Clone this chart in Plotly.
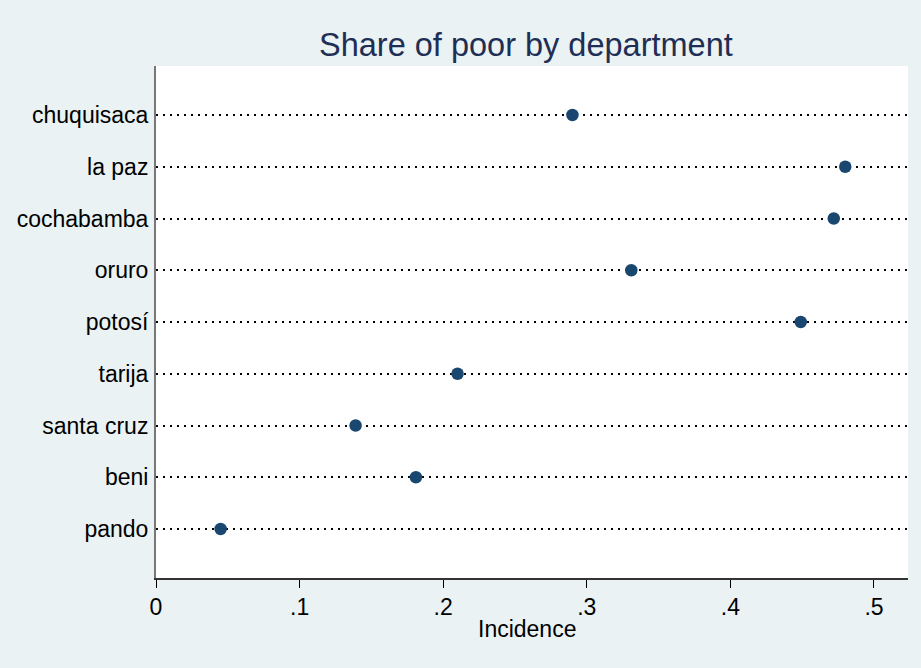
import plotly.graph_objects as go

departments = ["chuquisaca", "la paz", "cochabamba", "oruro", "potosí",
               "tarija", "santa cruz", "beni", "pando"]
incidence = [0.290, 0.480, 0.472, 0.331, 0.449, 0.210, 0.139, 0.181, 0.045]
x_tickvals = [0, 0.1, 0.2, 0.3, 0.4, 0.5]
x_ticktext = ["0", ".1", ".2", ".3", ".4", ".5"]

FONT = "Arial, Liberation Sans, sans-serif"
BG = "#EAF2F3"
NAVY = "#1A476F"

fig = go.Figure(go.Scatter(
    x=incidence, y=departments, mode="markers",
    marker=dict(color=NAVY, size=12.5, line=dict(width=0)),
    showlegend=False, hoverinfo="x+y",
))

fig.update_layout(
    width=921, height=668,
    paper_bgcolor=BG, plot_bgcolor="white",
    margin=dict(l=156, r=13, t=66, b=90),
    title=dict(text="Share of poor by department", x=0.571, xanchor="center",
               xref="container", y=1 - 45 / 668, yanchor="middle", yref="container",
               font=dict(family=FONT, size=32.5, color="#1E2E55")),
    font=dict(family=FONT, color="black"),
    annotations=[dict(text="Incidence", xref="paper", yref="paper",
                      x=0.493, y=0, yshift=-51, xanchor="center", yanchor="middle",
                      showarrow=False, font=dict(size=23, color="black"))],
)

fig.update_xaxes(
    range=[0, 0.5237], tickvals=x_tickvals, ticktext=x_ticktext,
    showgrid=False, zeroline=False,
    showline=True, linecolor="#333333", linewidth=1.5,
    ticks="outside", ticklen=8, tickwidth=1.2, tickcolor="black",
    tickfont=dict(size=23, color="black"),
)

fig.update_yaxes(
    type="category", categoryorder="array", categoryarray=departments,
    range=[8.947, -0.947],
    showgrid=True, gridcolor="black", gridwidth=1.5, griddash="2px,5px",
    zeroline=False,
    showline=True, linecolor="#777777", linewidth=2,
    ticks="", ticklabelstandoff=1,
    tickfont=dict(size=23, color="black"),
)

fig.write_html("out.html", config={"displayModeBar": False},
               post_script="document.body.style.margin='0';document.body.style.padding='0';")
